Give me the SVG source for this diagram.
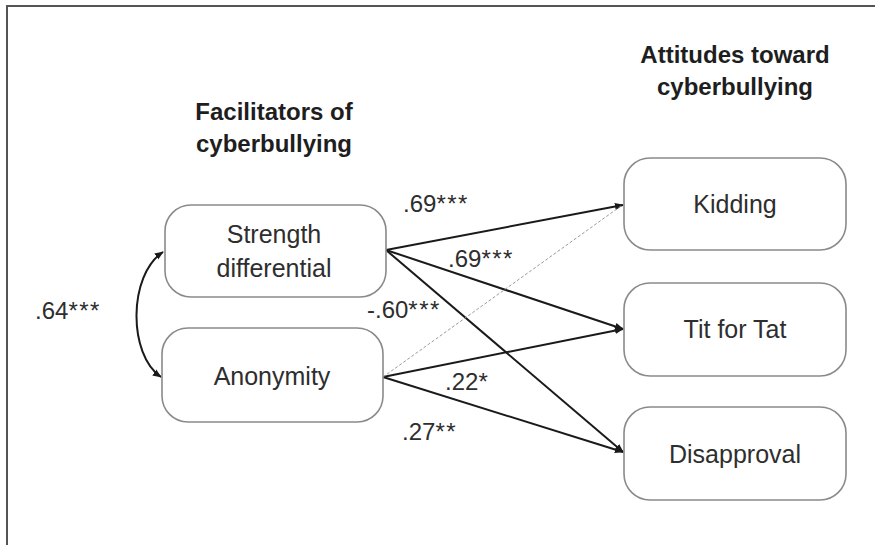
<svg xmlns="http://www.w3.org/2000/svg" width="875" height="545" viewBox="0 0 875 545">
<style>
.node rect{fill:#fff;stroke:#8a8a8a;stroke-width:1.6}
.nt{font-family:"Liberation Sans",Arial,sans-serif;font-size:25px;fill:#2e2e2e;text-anchor:middle}
.tt{font-family:"Liberation Sans",Arial,sans-serif;font-size:24px;font-weight:bold;fill:#1e1e1e;text-anchor:middle}
.lb{font-family:"Liberation Sans",Arial,sans-serif;font-size:24px;fill:#2e2e2e}
.st{letter-spacing:1.5px}
.ar{fill:none;stroke:#1a1a1a;stroke-width:2}
.dt{fill:none;stroke:#999;stroke-width:1;stroke-dasharray:3 2}
</style>
<defs>
<marker id="ah" viewBox="0 0 10 10" refX="9" refY="5" markerWidth="9" markerHeight="9" markerUnits="userSpaceOnUse" orient="auto-start-reverse">
<path d="M0,1 L10,5 L0,9 z" fill="#1a1a1a"/>
</marker>
</defs>
<rect width="875" height="545" fill="#fff"/>
<g id="frame">
<line x1="6" y1="6" x2="875" y2="6" stroke="#555" stroke-width="2"/>
<line x1="7" y1="6" x2="7" y2="545" stroke="#555" stroke-width="2"/>
</g>
<g id="titles">
<text class="tt" x="274" y="120">Facilitators of</text>
<text class="tt" x="274" y="152">cyberbullying</text>
<text class="tt" x="735" y="63">Attitudes toward</text>
<text class="tt" x="735" y="95">cyberbullying</text>
</g>
<g id="connectors">
<path class="ar" d="M163,252 C128,275 128,355 161,377" marker-start="url(#ah)" marker-end="url(#ah)"/>
<line class="ar" x1="386" y1="250" x2="623" y2="205" marker-end="url(#ah)"/>
<line class="ar" x1="386" y1="250" x2="623" y2="329" marker-end="url(#ah)"/>
<line class="ar" x1="386" y1="250" x2="623" y2="452" marker-end="url(#ah)"/>
<line class="ar" x1="383" y1="377" x2="623" y2="329" marker-end="url(#ah)"/>
<line class="ar" x1="383" y1="377" x2="623" y2="452" marker-end="url(#ah)"/>
<line class="dt" x1="383" y1="377" x2="621" y2="206"/>
</g>
<g id="labels">
<text class="lb" x="35" y="319">.64<tspan class="st">***</tspan></text>
<text class="lb" x="403" y="212">.69<tspan class="st">***</tspan></text>
<text class="lb" x="448" y="267">.69<tspan class="st">***</tspan></text>
<text class="lb" x="367" y="318">-.60<tspan class="st">***</tspan></text>
<text class="lb" x="445" y="390">.22<tspan class="st">*</tspan></text>
<text class="lb" x="402" y="440">.27<tspan class="st">**</tspan></text>
</g>
<g id="strength" class="node">
<rect x="165" y="205" width="221" height="92" rx="26"/>
<text class="nt" x="274" y="243">Strength</text>
<text class="nt" x="274" y="277">differential</text>
</g>
<g id="anonymity" class="node">
<rect x="162" y="328" width="221" height="94" rx="26"/>
<text class="nt" x="272" y="385">Anonymity</text>
</g>
<g id="kidding" class="node">
<rect x="624" y="158" width="222" height="92" rx="26"/>
<text class="nt" x="735" y="213">Kidding</text>
</g>
<g id="titfortat" class="node">
<rect x="624" y="283" width="222" height="93" rx="26"/>
<text class="nt" x="735" y="338">Tit for Tat</text>
</g>
<g id="disapproval" class="node">
<rect x="624" y="407" width="222" height="93" rx="26"/>
<text class="nt" x="735" y="463">Disapproval</text>
</g>
</svg>
